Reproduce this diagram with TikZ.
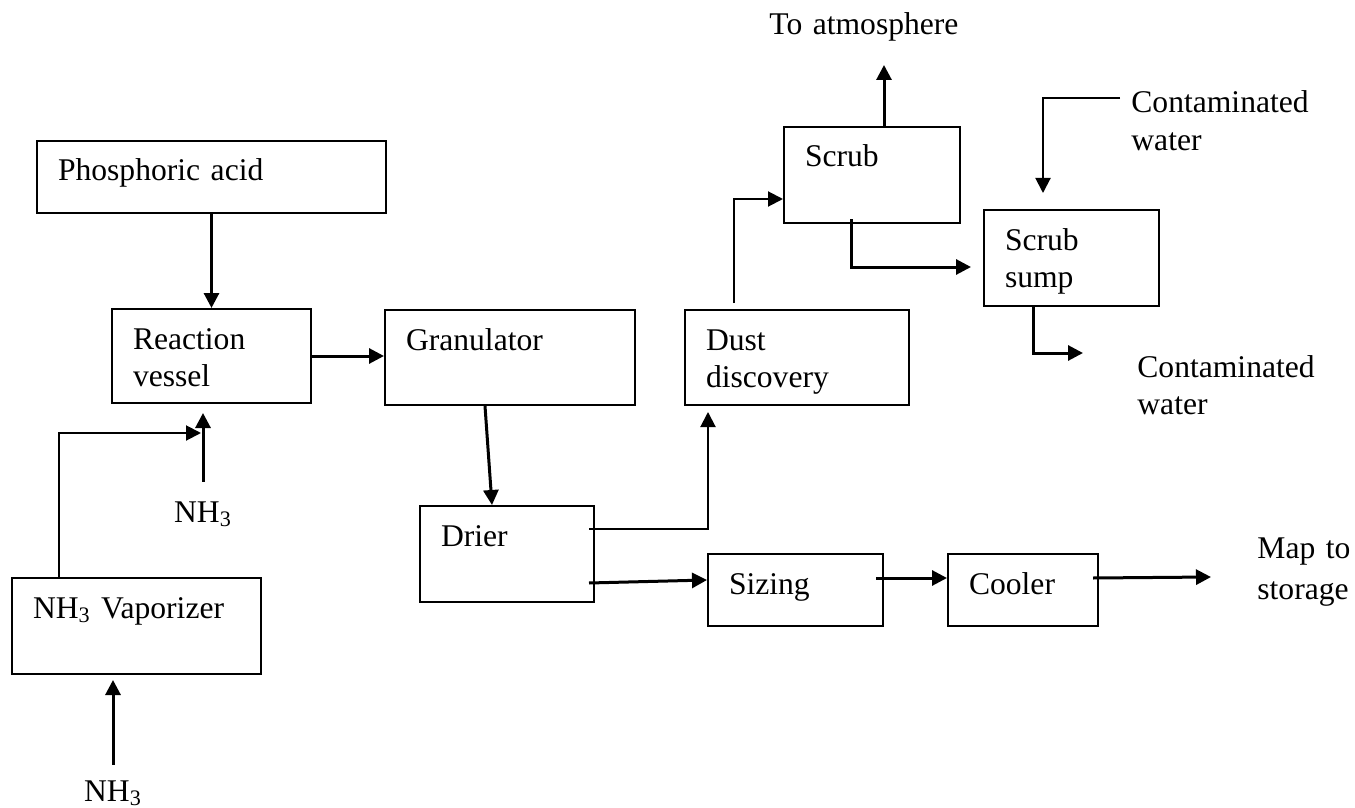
\documentclass[tikz,border=0pt]{standalone}
\usepackage{fontspec}
\setmainfont{Liberation Serif}
\usetikzlibrary{arrows.meta}
\begin{document}
\begin{tikzpicture}[x=0.5pt,y=-0.5pt,
  font=\fontsize{15.8pt}{18.5pt}\selectfont,
  box/.style n args={2}{draw, line width=1pt, anchor=north west, inner ysep=0pt, inner xsep=10.5pt, align=left, text width=#1, text height=20pt, text depth=#2},
  lbl/.style={inner sep=0pt, anchor=base west, align=left, text width=100pt},
  clbl/.style={inner sep=0pt, anchor=base},
  arr/.style={line width=1.5pt, -{Triangle[length=7.5pt,width=7.5pt]}},
  tarr/.style={line width=1pt, -{Triangle[length=7.5pt,width=7.5pt]}},
]
\useasboundingbox (0,0) rectangle (1355,808);

% boxes
\node[box={153.5pt}{16pt}] (phos) at (36,140) {Phosphoric acid};
\node[box={78.5pt}{27pt}] (react) at (111,308) {Reaction\\vessel};
\node[box={104pt}{27.5pt}] (gran) at (384,309) {Granulator};
\node[box={66pt}{28pt}] (drier) at (419,505) {Drier};
\node[box={91pt}{27.5pt}] (dust) at (684,309) {Dust\\discovery};
\node[box={67pt}{28pt}] (scrub) at (783,126) {Scrub};
\node[box={66.5pt}{28pt}] (sump) at (983,209) {Scrub\\sump};
\node[box={66.5pt}{16pt}] (sizing) at (707,553) {Sizing};
\node[box={54pt}{16pt}] (cooler) at (947,553) {Cooler};
\node[box={103.5pt}{28pt}] (vap) at (11,577) {NH\textsubscript{3} Vaporizer};

% free labels
\node[lbl] (atm) at (769,35) {To atmosphere};
\node[clbl] (nh3a) at (203,522) {NH\textsubscript{3}};
\node[clbl] (nh3b) at (113,801) {NH\textsubscript{3}};
\node[lbl] (cw1) at (1131,113) {Contaminated\\water};
\node[lbl] (cw2) at (1137,377) {Contaminated\\water};
\node[lbl] (map) at (1257,558) {Map to\\[2pt]storage};

% free ends
\coordinate (j1) at (201,433);
\coordinate (atmtip) at (884,65);
\coordinate (cwin) at (1120,98);
\coordinate (cwout) at (1083,353);
\coordinate (maptip) at (1211,577);

% connectors
\draw[arr] (phos.south) -- (react.north);
\draw[arr] (react.east) -- (react.east -| gran.west);
\draw[arr, shorten <=9.5pt, shorten >=4.5pt] (nh3a.north) -- (nh3a.north |- react.south);
\draw[tarr] ([xshift=24pt]vap.north west) |- (j1);
\draw[arr, shorten <=7.5pt, shorten >=2.5pt] (nh3b.north) -- (nh3b.north |- vap.south);
\draw[arr] ([xshift=50.5pt]gran.south west) -- ([xshift=36.5pt]drier.north west);
\draw[tarr, shorten >=3pt] ([shift={(-3pt,-12pt)}]drier.north east) -| ([xshift=12pt]dust.south west);
\draw[arr] ([shift={(-3pt,-39pt)}]drier.north east) -- ([yshift=5pt]sizing.west);
\draw[tarr] ([shift={(25pt,3pt)}]dust.north west) |- ([yshift=-36.5pt]scrub.north west);
\draw[arr] ([xshift=50.5pt]scrub.north west) -- (atmtip);
\draw[arr, shorten >=6pt] ([shift={(34pt,2.5pt)}]scrub.south west) |- ([yshift=-4.5pt]sump.west);
\draw[tarr, shorten >=8pt] (cwin) -| ([xshift=30pt]sump.north west);
\draw[arr] ([xshift=25pt]sump.south west) |- (cwout);
\draw[arr] ([shift={(-4pt,6pt)}]sizing.east) -- ([yshift=6pt]cooler.west);
\draw[arr] ([shift={(-3pt,6pt)}]cooler.east) -- (maptip);
\end{tikzpicture}
\end{document}
